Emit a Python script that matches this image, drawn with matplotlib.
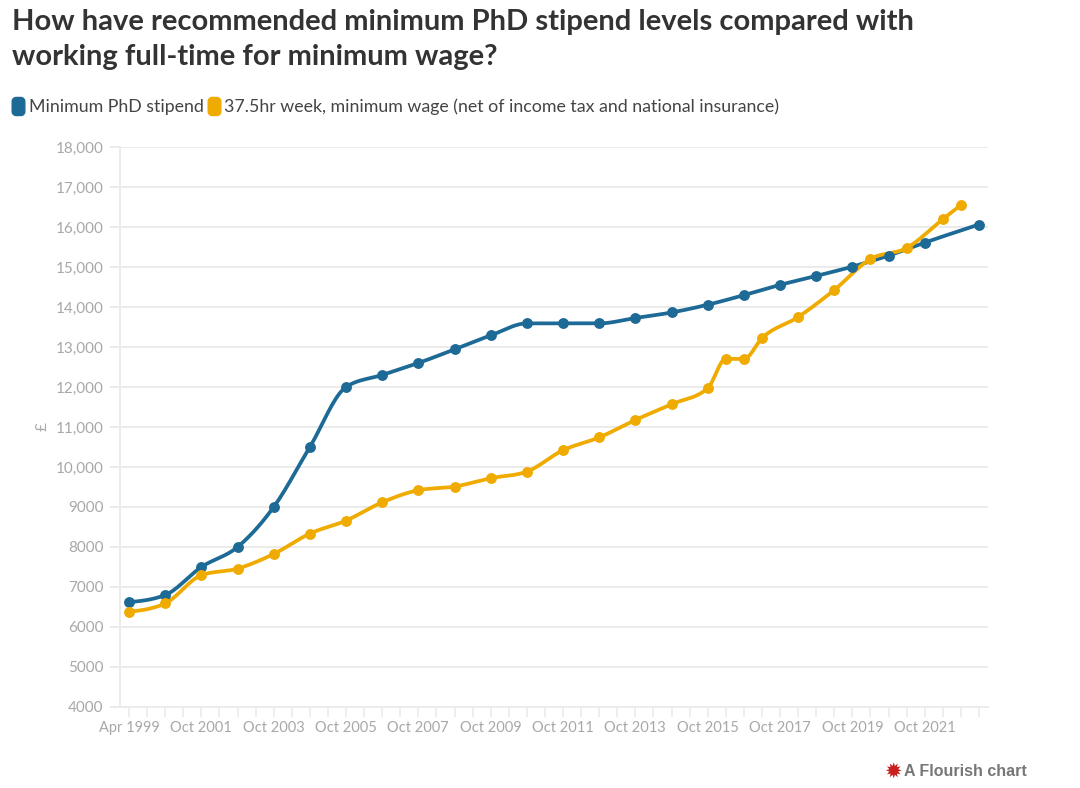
import numpy as np
import matplotlib
matplotlib.use("Agg")
import matplotlib.pyplot as plt
from matplotlib.lines import Line2D
from matplotlib.path import Path

# ---------------- data ----------------
categories = [
    "Apr 1999", "Apr 2000", "Oct 2000", "Apr 2001", "Oct 2001", "Apr 2002",
    "Oct 2002", "Apr 2003", "Oct 2003", "Apr 2004", "Oct 2004", "Apr 2005",
    "Oct 2005", "Apr 2006", "Oct 2006", "Apr 2007", "Oct 2007", "Apr 2008",
    "Oct 2008", "Apr 2009", "Oct 2009", "Apr 2010", "Oct 2010", "Apr 2011",
    "Oct 2011", "Apr 2012", "Oct 2012", "Apr 2013", "Oct 2013", "Apr 2014",
    "Oct 2014", "Apr 2015", "Oct 2015", "Apr 2016", "Oct 2016", "Apr 2017",
    "Oct 2017", "Apr 2018", "Oct 2018", "Apr 2019", "Oct 2019", "Apr 2020",
    "Oct 2020", "Apr 2021", "Oct 2021", "Apr 2022", "Oct 2022", "Apr 2023",
]

stipend_cats = [
    "Apr 1999", "Oct 2000", "Oct 2001", "Oct 2002", "Oct 2003", "Oct 2004",
    "Oct 2005", "Oct 2006", "Oct 2007", "Oct 2008", "Oct 2009", "Oct 2010",
    "Oct 2011", "Oct 2012", "Oct 2013", "Oct 2014", "Oct 2015", "Oct 2016",
    "Oct 2017", "Oct 2018", "Oct 2019", "Oct 2020", "Oct 2021", "Apr 2023",
]
stipend = [
    6620, 6800, 7500, 8000, 9000, 10500,
    12000, 12300, 12600, 12940, 13290, 13590,
    13590, 13590, 13726, 13863, 14057, 14296,
    14553, 14777, 15009, 15285, 15609, 16062,
]

wage_cats = [
    "Apr 1999", "Oct 2000", "Oct 2001", "Oct 2002", "Oct 2003", "Oct 2004",
    "Oct 2005", "Oct 2006", "Oct 2007", "Oct 2008", "Oct 2009", "Oct 2010",
    "Oct 2011", "Oct 2012", "Oct 2013", "Oct 2014", "Oct 2015", "Apr 2016",
    "Oct 2016", "Apr 2017", "Apr 2018", "Apr 2019", "Apr 2020", "Apr 2021",
    "Apr 2022", "Oct 2022",
]
wage = [
    6380, 6590, 7295, 7460, 7825, 8335,
    8660, 9117, 9420, 9510, 9720, 9885,
    10420, 10740, 11175, 11570, 11970, 12705,
    12700, 13220, 13750, 14425, 15200, 15475,
    16195, 16550,
]

series_names = ["Minimum PhD stipend",
                "37.5hr week, minimum wage (net of income tax and national insurance)"]
y_ticks = [4000, 5000, 6000, 7000, 8000, 9000, 10000, 11000, 12000,
           13000, 14000, 15000, 16000, 17000, 18000]
x_label_every = 4

BLUE = "#1d6a96"
YELLOW = "#f0ab00"
GRID = "#ebebeb"
TICKTXT = "#a8a8a8"

# ---------------- helpers ----------------
def monotone_curve(x, y, n=30):
    """d3.curveMonotoneX style interpolation (for the drawn path)."""
    x = np.asarray(x, float)
    y = np.asarray(y, float)
    m = len(x)
    h = np.diff(x)
    s = np.diff(y) / h
    t = np.zeros(m)
    for i in range(1, m - 1):
        h0, h1 = h[i - 1], h[i]
        s0, s1 = s[i - 1], s[i]
        p = (s0 * h1 + s1 * h0) / (h0 + h1)
        t[i] = (np.sign(s0) + np.sign(s1)) * min(abs(s0), abs(s1), 0.5 * abs(p))
    t[0] = (3 * s[0] - t[1]) / 2 if m > 2 else s[0]
    t[-1] = (3 * s[-1] - t[-2]) / 2 if m > 2 else s[-1]
    xs, ys = [], []
    for i in range(m - 1):
        u = np.linspace(0, 1, n, endpoint=(i == m - 2))
        hh = h[i]
        h00 = 2 * u**3 - 3 * u**2 + 1
        h10 = u**3 - 2 * u**2 + u
        h01 = -2 * u**3 + 3 * u**2
        h11 = u**3 - u**2
        xs.append(x[i] + u * hh)
        ys.append(h00 * y[i] + h10 * hh * t[i] + h01 * y[i + 1] + h11 * hh * t[i + 1])
    return np.concatenate(xs), np.concatenate(ys)

def rounded_rect_path(w=0.7, h=1.0, r=0.22, n=8):
    pts = []
    corners = [(w / 2 - r, h / 2 - r, 0), (-w / 2 + r, h / 2 - r, 90),
               (-w / 2 + r, -h / 2 + r, 180), (w / 2 - r, -h / 2 + r, 270)]
    for cx, cy, a0 in corners:
        for a in np.linspace(a0, a0 + 90, n):
            pts.append((cx + r * np.cos(np.radians(a)), cy + r * np.sin(np.radians(a))))
    pts.append(pts[0])
    codes = [Path.MOVETO] + [Path.LINETO] * (len(pts) - 2) + [Path.CLOSEPOLY]
    return Path(pts, codes)

def fmt(v):
    return f"{v:,}" if v >= 10000 else f"{v}"

# ---------------- figure ----------------
plt.rcParams["font.family"] = ["Lato", "DejaVu Sans"]
fig = plt.figure(figsize=(10.8, 7.88), dpi=100)
ax = fig.add_axes([120 / 1080, (788 - 707) / 788, (988 - 120) / 1080, (707 - 147) / 788])

idx = {c: i for i, c in enumerate(categories)}
for cats, vals, col in [(stipend_cats, stipend, BLUE), (wage_cats, wage, YELLOW)]:
    xs = [idx[c] for c in cats]
    cx, cy = monotone_curve(xs, vals)
    ax.plot(cx, cy, color=col, lw=2.7, solid_capstyle="round", zorder=3)
    ax.plot(xs, vals, ls="", marker="o", ms=6.8, color=col, zorder=4)

ax.set_xlim(-0.5, len(categories) - 0.5)
ax.set_ylim(y_ticks[0], y_ticks[-1])

ax.set_yticks(y_ticks)
ax.set_yticklabels([fmt(v) for v in y_ticks])
ax.set_xticks(range(len(categories)))
ax.set_xticklabels([c if i % x_label_every == 0 else "" for i, c in enumerate(categories)])

ax.grid(axis="y", color=GRID, lw=1.4, zorder=0)
for sp in ["top", "right"]:
    ax.spines[sp].set_visible(False)
for sp in ["left", "bottom"]:
    ax.spines[sp].set_color(GRID)
    ax.spines[sp].set_linewidth(1.4)
ax.tick_params(axis="y", length=7, width=1.4, color=GRID, labelcolor=TICKTXT,
               labelsize=11, pad=5)
ax.tick_params(axis="x", length=7, width=1.2, color=GRID, labelcolor=TICKTXT,
               labelsize=10.5, pad=3)
ax.set_ylabel("£", color=TICKTXT, fontsize=11, labelpad=4)

# title
fig.text(12 / 1080, 1 - 22 / 788, "How have recommended minimum PhD stipend levels compared with",
         ha="left", va="center", fontsize=21, fontweight="bold", color="#333333")
fig.text(12 / 1080, 1 - 57 / 788, "working full-time for minimum wage?",
         ha="left", va="center", fontsize=21, fontweight="bold", color="#333333")

# legend
rr = rounded_rect_path()
handles = [Line2D([], [], ls="", marker=rr, ms=13, color=BLUE),
           Line2D([], [], ls="", marker=rr, ms=13, color=YELLOW)]
leg = fig.legend(handles, series_names, loc="center left",
                 bbox_to_anchor=(13 / 1080, 1 - 107 / 788), ncol=2, frameon=False,
                 handlelength=0.6, handletextpad=0.3, columnspacing=0.25,
                 fontsize=12.75, borderaxespad=0, borderpad=0)
for t in leg.get_texts():
    t.set_color("#444444")

# footer
fig.text(893 / 1080, 1 - 772 / 788, "✹", color="#c8201e", fontsize=15,
         ha="center", va="center", family=["DejaVu Sans"])
fig.text(1027 / 1080, 1 - 772 / 788, "A Flourish chart", color="#777777",
         fontsize=11.5, fontweight="bold", ha="right", va="center",
         family=["Liberation Sans", "DejaVu Sans"])

fig.savefig("out.png", dpi=100)
